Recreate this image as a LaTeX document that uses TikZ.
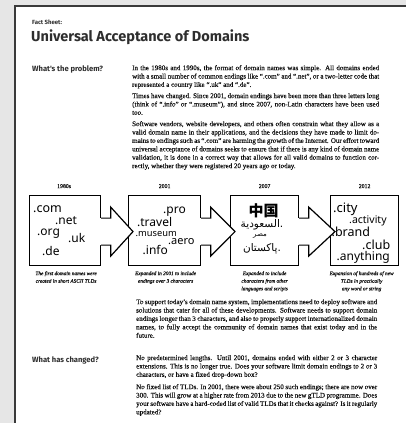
\documentclass[tikz,border=0pt]{standalone}
\usepackage{fontspec}
\usetikzlibrary{calc}
\setmainfont{Liberation Serif}[UprightFeatures={FakeBold=0.35},ItalicFeatures={FakeBold=0.3}]
\newfontfamily\headfont{Fira Sans}
\newfontfamily\boxfont{Noto Sans}
\newfontfamily\cjkfont{Noto Sans CJK SC}
\newfontfamily\arabicfont[Script=Arabic]{DejaVu Sans}
\TeXXeTstate=1
\definecolor{bg}{HTML}{E6E6E6}
\definecolor{txt}{HTML}{111111}
\definecolor{headc}{HTML}{2E2E2E}
\definecolor{border}{HTML}{3A3A3A}
\newcommand\arrowbetween[2]{%
  \fill[white] ($(#1.east)+(-1,-12.5)$) -- ($(#1.east)+(9.5,-12.5)$) -- ($(#1.east)+(9.5,-23.5)$) -- ($(#2.west)+(5,1)$) -- ($(#1.east)+(9.5,25.5)$) -- ($(#1.east)+(9.5,14.5)$) -- ($(#1.east)+(-1,14.5)$) -- cycle;
  \draw[arr] ($(#1.east)+(0,-12.5)$) -- ($(#1.east)+(9.5,-12.5)$) -- ($(#1.east)+(9.5,-23.5)$) -- ($(#2.west)+(5,1)$) -- ($(#1.east)+(9.5,25.5)$) -- ($(#1.east)+(9.5,14.5)$) -- ($(#1.east)+(0,14.5)$);
}
\begin{document}
\begin{tikzpicture}[x=1pt,y=-1pt,
  box/.style={draw=black,line width=1.2pt,fill=white,inner sep=0pt,minimum width=#1,minimum height=70pt,anchor=north west},
  arr/.style={draw=black,line width=1.2pt,line join=miter},
  body/.style={anchor=north west,inner sep=0pt,text width=#1,align=justify,font=\fontsize{7}{8.4}\selectfont,text=txt},
  headtxt/.style={anchor=base west,inner sep=0pt,text=headc,font=\headfont\bfseries\fontsize{#1}{#1}\selectfont},
  bt/.style={anchor=base west,inner sep=0pt,font=\boxfont\fontsize{#1}{#1}\selectfont},
  captxt/.style={anchor=north,inner sep=0pt,align=center,text=txt,font=\itshape\fontsize{5.3}{7.6}\selectfont},
  yearlbl/.style={anchor=base,inner sep=0pt,text=txt,font=\fontsize{5.8}{7}\selectfont}]
\useasboundingbox (0,0) rectangle (406,423);
\fill[bg] (0,0) rectangle (406,423);
\fill[white] (15,6) rectangle (407,424);
\draw[border,line width=2.2pt] (15,424) -- (15,6) -- (407,6);

% titles
\node[headtxt=6] (fact) at (32,24) {Fact Sheet:};
\node[headtxt=14.5] (title) at (31,41) {Universal Acceptance of Domains};
\node[headtxt=7.6] (h1) at (32,71) {What's the problem?};
\node[headtxt=7.6] (h2) at (32,362) {What has changed?};

% body paragraphs
\node[body=247pt] (p1) at (132,65) {In the 1980s and 1990s, the format of domain names was simple. All domains ended with a small number of common endings like ``.com'' and ``.net'', or a two-letter code that represented a country like ``.uk'' and ``.de''.};
\node[body=247pt] (p2) at (132,93) {Times have changed. Since 2001, domain endings have been more than three letters long (think of ``.info'' or ``.museum''), and since 2007, non-Latin characters have been used too.};
\node[body=247pt] (p3) at (132,121) {Software vendors, website developers, and others often constrain what they allow as a valid domain name in their applications, and the decisions they have made to limit domains to endings such as ``.com'' are harming the growth of the Internet. Our effort toward universal acceptance of domains seeks to ensure that if there is any kind of domain name validation, it is done in a correct way that allows for all valid domains to function correctly, whether they were registered 20 years ago or today.};
\node[body=241pt] (p4) at (136,299) {To support today's domain name system, implementations need to deploy software and solutions that cater for all of these developments. Software needs to support domain endings longer than 3 characters, and also to properly support internationalized domain names, to fully accept the community of domain names that exist today and in the future.};
\node[body=241pt] (p5) at (136,355) {No predetermined lengths. Until 2001, domains ended with either 2 or 3 character extensions. This is no longer true. Does your software limit domain endings to 2 or 3 characters, or have a fixed drop-down box?};
\node[body=241pt] (p6) at (136,384) {No fixed list of TLDs. In 2001, there were about 250 such endings; there are now over 300. This will grow at a higher rate from 2013 due to the new gTLD programme. Does your software have a hard-coded list of valid TLDs that it checks against? Is it regularly updated?};

% boxes
\node[box=71pt] (b1) at (29,195) {};
\node[box=72pt] (b2) at (128,195) {};
\node[box=68pt] (b3) at (230,195) {};
\node[box=68pt] (b4) at (330,195) {};
\arrowbetween{b1}{b2}
\arrowbetween{b2}{b3}
\arrowbetween{b3}{b4}

% year labels
\node[yearlbl] (y1) at ($(b1.north)+(-1,-7)$) {1980s};
\node[yearlbl] (y2) at ($(b2.north)+(0,-7)$) {2001};
\node[yearlbl] (y3) at ($(b3.north)+(0,-7)$) {2007};
\node[yearlbl] (y4) at ($(b4.north)+(0,-7)$) {2012};

% box 1
\node[bt=12.5] (com) at (33,212) {.com};
\node[bt=12] (net) at (55,224) {.net};
\node[bt=12] (org) at (37,235.5) {.org};
\node[bt=12] (uk) at (68,242) {.uk};
\node[bt=12] (de) at (42,255) {.de};
% box 2
\node[bt=12] (pro) at (163,213.5) {.pro};
\node[bt=12] (travel) at (137,226) {.travel};
\node[bt=9.3] (museum) at (135.5,236) {.museum};
\node[bt=11] (aero) at (168,244) {.aero};
\node[bt=12] (info) at (142.5,254) {.info};
% box 3
\node[inner sep=0pt,font=\cjkfont\bfseries\fontsize{15}{15}\selectfont] (zh) at (263.5,210.5) {中国};
\node[inner sep=0pt,font=\arabicfont\fontsize{10.5}{10.5}\selectfont] (ar1) at (262,225) {\beginR .السعودية\endR};
\node[inner sep=0pt,font=\arabicfont\fontsize{7}{7}\selectfont] (ar2) at (260,236.5) {\beginR مصر\endR};
\node[inner sep=0pt,font=\arabicfont\fontsize{10.5}{10.5}\selectfont] (ar3) at (262,248.5) {\beginR .پاکستان\endR};
% box 4
\node[bt=13] (city) at (333,212) {.city};
\node[bt=10.5] (activity) at (349,223) {.activity};
\node[bt=12.5] (brand) at (331.5,236) {.brand};
\node[bt=12.5] (club) at (362,249) {.club};
\node[bt=12] (anything) at (336.5,260) {.anything};

% captions
\node[captxt] (c1) at ($(b1.south)+(1,5)$) {The first domain names were\\created in short ASCII TLDs};
\node[captxt] (c2) at ($(b2.south)+(1,5)$) {Expanded in 2001 to include\\endings over 3 characters};
\node[captxt] (c3) at ($(b3.south)+(0,5)$) {Expanded to include\\characters from other\\languages and scripts};
\node[captxt] (c4) at ($(b4.south)+(-3,5)$) {Expansion of hundreds of new\\TLDs in practically\\any word or string};
\end{tikzpicture}
\end{document}
